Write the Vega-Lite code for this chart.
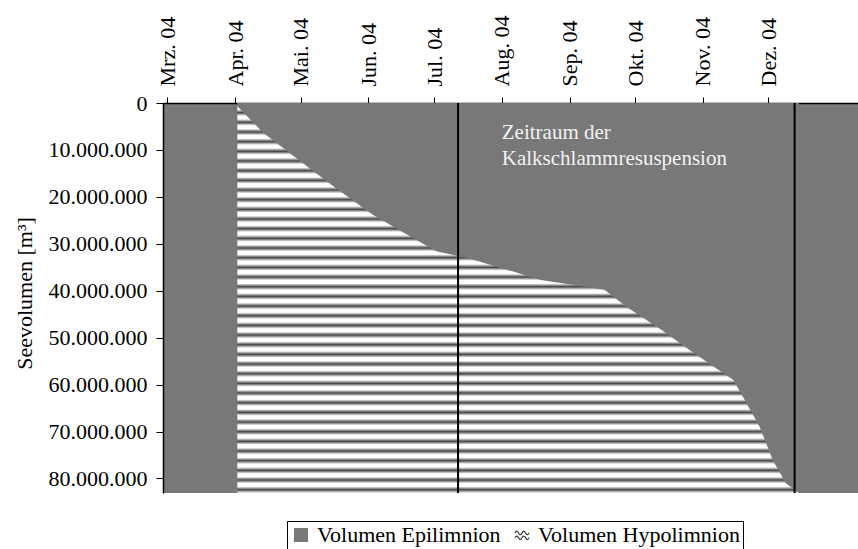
{
  "$schema": "https://vega.github.io/schema/vega-lite/v6.json",
  "autosize": "none",
  "width": 695,
  "height": 390,
  "padding": {"left": 163, "top": 103, "right": 0, "bottom": 56},
  "background": "white",
  "datasets": {
    "curve": [
      {"date": "2004-04-02", "vol": 700000},
      {"date": "2004-04-14", "vol": 6400000},
      {"date": "2004-05-01", "vol": 12450000},
      {"date": "2004-05-17", "vol": 18100000},
      {"date": "2004-06-03", "vol": 23800000},
      {"date": "2004-06-20", "vol": 28400000},
      {"date": "2004-07-02", "vol": 31600000},
      {"date": "2004-07-16", "vol": 33000000},
      {"date": "2004-08-19", "vol": 37700000},
      {"date": "2004-09-17", "vol": 39800000},
      {"date": "2004-09-27", "vol": 43400000},
      {"date": "2004-10-13", "vol": 48300000},
      {"date": "2004-10-28", "vol": 53300000},
      {"date": "2004-11-15", "vol": 59000000},
      {"date": "2004-11-21", "vol": 64000000},
      {"date": "2004-11-27", "vol": 69000000},
      {"date": "2004-12-03", "vol": 76100000},
      {"date": "2004-12-09", "vol": 81000000},
      {"date": "2004-12-15", "vol": 83100000}
    ],
    "lines": [
      {"date": "2004-07-12"},
      {"date": "2004-12-13"}
    ],
    "note": [
      {"date": "2004-08-01", "vol": 7700000, "label": "Zeitraum der\nKalkschlammresuspension"}
    ]
  },
  "encoding": {
    "x": {
      "field": "date",
      "type": "temporal",
      "scale": {
        "type": "utc",
        "domain": [
          {"year": 2004, "month": 2, "date": 28, "utc": true},
          {"year": 2005, "month": 1, "date": 11, "utc": true}
        ],
        "nice": false
      },
      "axis": {
        "orient": "top",
        "title": null,
        "values": [
          {"year": 2004, "month": 3, "date": 1, "utc": true},
          {"year": 2004, "month": 4, "date": 1, "utc": true},
          {"year": 2004, "month": 5, "date": 1, "utc": true},
          {"year": 2004, "month": 6, "date": 1, "utc": true},
          {"year": 2004, "month": 7, "date": 1, "utc": true},
          {"year": 2004, "month": 8, "date": 1, "utc": true},
          {"year": 2004, "month": 9, "date": 1, "utc": true},
          {"year": 2004, "month": 10, "date": 1, "utc": true},
          {"year": 2004, "month": 11, "date": 1, "utc": true},
          {"year": 2004, "month": 12, "date": 1, "utc": true}
        ],
        "labelExpr": "['Jan.','Feb.','Mrz.','Apr.','Mai.','Jun.','Jul.','Aug.','Sep.','Okt.','Nov.','Dez.'][utcmonth(datum.value)] + ' ' + utcFormat(datum.value, '%y')",
        "labelAngle": 270,
        "labelAlign": "left",
        "labelBaseline": "middle",
        "labelPadding": 11,
        "tickSize": 6,
        "labelOverlap": false,
        "labelFlush": false
      }
    }
  },
  "layer": [
    {
      "data": {"name": "curve"},
      "mark": {"type": "area", "interpolate": "linear"},
      "encoding": {
        "y": {
          "field": "vol",
          "type": "quantitative",
          "scale": {"domain": [0, 83100000], "reverse": true, "nice": false, "zero": false},
          "axis": {
            "title": "Seevolumen [m³]",
            "values": [0, 10000000, 20000000, 30000000, 40000000, 50000000, 60000000, 70000000, 80000000],
            "labelExpr": "replace(replace(format(datum.value, ','), ',', '.'), ',', '.')",
            "tickSize": 7,
            "labelPadding": 9,
            "titlePadding": 12,
            "titleY": 190
          }
        },
        "y2": {"datum": 0},
        "color": {
          "datum": "Volumen Epilimnion",
          "scale": {
            "domain": ["Volumen Epilimnion", "Volumen Hypolimnion"],
            "range": ["#787878", "#ffffff"]
          },
          "legend": {
            "title": null,
            "orient": "none",
            "legendX": 124,
            "legendY": 418,
            "direction": "horizontal",
            "padding": 3,
            "strokeColor": "black",
            "fillColor": "white",
            "labelFontSize": 22,
            "labelFont": "Liberation Serif",
            "labelColor": "black",
            "labelLimit": 400,
            "symbolSize": 196,
            "columnPadding": 10,
            "labelOffset": 5,
            "encode": {
              "symbols": {
                "update": {
                  "shape": {"signal": "datum.value == 'Volumen Hypolimnion' ? 'M-1,-0.3Q-0.75,-0.8,-0.5,-0.3T0,-0.3T0.5,-0.3T1,-0.3M-1,0.4Q-0.75,-0.1,-0.5,0.4T0,0.4T0.5,0.4T1,0.4' : 'square'"},
                  "fill": {"signal": "datum.value == 'Volumen Hypolimnion' ? 'transparent' : '#787878'"},
                  "stroke": {"signal": "datum.value == 'Volumen Hypolimnion' ? '#333333' : 'transparent'"},
                  "strokeWidth": {"value": 1.2},
                  "opacity": {"value": 1}
                }
              }
            }
          }
        }
      }
    },
    {
      "data": {"name": "curve"},
      "mark": {
        "type": "area",
        "interpolate": "linear",
        "fill": {
          "gradient": "linear",
          "x1": 0, "y1": 0, "x2": 0, "y2": 1,
          "stops": [
            {"offset": 0, "color": "#ffffff"}, {"offset": 0.008, "color": "#ffffff"}, {"offset": 0.0165, "color": "#444444"},
            {"offset": 0.025, "color": "#ffffff"}, {"offset": 0.033, "color": "#ffffff"}, {"offset": 0.0415, "color": "#444444"},
            {"offset": 0.05, "color": "#ffffff"}, {"offset": 0.058, "color": "#ffffff"}, {"offset": 0.0665, "color": "#444444"},
            {"offset": 0.075, "color": "#ffffff"}, {"offset": 0.083, "color": "#ffffff"}, {"offset": 0.0915, "color": "#444444"},
            {"offset": 0.1, "color": "#ffffff"}, {"offset": 0.108, "color": "#ffffff"}, {"offset": 0.1165, "color": "#444444"},
            {"offset": 0.125, "color": "#ffffff"}, {"offset": 0.133, "color": "#ffffff"}, {"offset": 0.1415, "color": "#444444"},
            {"offset": 0.15, "color": "#ffffff"}, {"offset": 0.158, "color": "#ffffff"}, {"offset": 0.1665, "color": "#444444"},
            {"offset": 0.175, "color": "#ffffff"}, {"offset": 0.183, "color": "#ffffff"}, {"offset": 0.1915, "color": "#444444"},
            {"offset": 0.2, "color": "#ffffff"}, {"offset": 0.208, "color": "#ffffff"}, {"offset": 0.2165, "color": "#444444"},
            {"offset": 0.225, "color": "#ffffff"}, {"offset": 0.233, "color": "#ffffff"}, {"offset": 0.2415, "color": "#444444"},
            {"offset": 0.25, "color": "#ffffff"}, {"offset": 0.258, "color": "#ffffff"}, {"offset": 0.2665, "color": "#444444"},
            {"offset": 0.275, "color": "#ffffff"}, {"offset": 0.283, "color": "#ffffff"}, {"offset": 0.2915, "color": "#444444"},
            {"offset": 0.3, "color": "#ffffff"}, {"offset": 0.308, "color": "#ffffff"}, {"offset": 0.3165, "color": "#444444"},
            {"offset": 0.325, "color": "#ffffff"}, {"offset": 0.333, "color": "#ffffff"}, {"offset": 0.3415, "color": "#444444"},
            {"offset": 0.35, "color": "#ffffff"}, {"offset": 0.358, "color": "#ffffff"}, {"offset": 0.3665, "color": "#444444"},
            {"offset": 0.375, "color": "#ffffff"}, {"offset": 0.383, "color": "#ffffff"}, {"offset": 0.3915, "color": "#444444"},
            {"offset": 0.4, "color": "#ffffff"}, {"offset": 0.408, "color": "#ffffff"}, {"offset": 0.4165, "color": "#444444"},
            {"offset": 0.425, "color": "#ffffff"}, {"offset": 0.433, "color": "#ffffff"}, {"offset": 0.4415, "color": "#444444"},
            {"offset": 0.45, "color": "#ffffff"}, {"offset": 0.458, "color": "#ffffff"}, {"offset": 0.4665, "color": "#444444"},
            {"offset": 0.475, "color": "#ffffff"}, {"offset": 0.483, "color": "#ffffff"}, {"offset": 0.4915, "color": "#444444"},
            {"offset": 0.5, "color": "#ffffff"}, {"offset": 0.508, "color": "#ffffff"}, {"offset": 0.5165, "color": "#444444"},
            {"offset": 0.525, "color": "#ffffff"}, {"offset": 0.533, "color": "#ffffff"}, {"offset": 0.5415, "color": "#444444"},
            {"offset": 0.55, "color": "#ffffff"}, {"offset": 0.558, "color": "#ffffff"}, {"offset": 0.5665, "color": "#444444"},
            {"offset": 0.575, "color": "#ffffff"}, {"offset": 0.583, "color": "#ffffff"}, {"offset": 0.5915, "color": "#444444"},
            {"offset": 0.6, "color": "#ffffff"}, {"offset": 0.608, "color": "#ffffff"}, {"offset": 0.6165, "color": "#444444"},
            {"offset": 0.625, "color": "#ffffff"}, {"offset": 0.633, "color": "#ffffff"}, {"offset": 0.6415, "color": "#444444"},
            {"offset": 0.65, "color": "#ffffff"}, {"offset": 0.658, "color": "#ffffff"}, {"offset": 0.6665, "color": "#444444"},
            {"offset": 0.675, "color": "#ffffff"}, {"offset": 0.683, "color": "#ffffff"}, {"offset": 0.6915, "color": "#444444"},
            {"offset": 0.7, "color": "#ffffff"}, {"offset": 0.708, "color": "#ffffff"}, {"offset": 0.7165, "color": "#444444"},
            {"offset": 0.725, "color": "#ffffff"}, {"offset": 0.733, "color": "#ffffff"}, {"offset": 0.7415, "color": "#444444"},
            {"offset": 0.75, "color": "#ffffff"}, {"offset": 0.758, "color": "#ffffff"}, {"offset": 0.7665, "color": "#444444"},
            {"offset": 0.775, "color": "#ffffff"}, {"offset": 0.783, "color": "#ffffff"}, {"offset": 0.7915, "color": "#444444"},
            {"offset": 0.8, "color": "#ffffff"}, {"offset": 0.808, "color": "#ffffff"}, {"offset": 0.8165, "color": "#444444"},
            {"offset": 0.825, "color": "#ffffff"}, {"offset": 0.833, "color": "#ffffff"}, {"offset": 0.8415, "color": "#444444"},
            {"offset": 0.85, "color": "#ffffff"}, {"offset": 0.858, "color": "#ffffff"}, {"offset": 0.8665, "color": "#444444"},
            {"offset": 0.875, "color": "#ffffff"}, {"offset": 0.883, "color": "#ffffff"}, {"offset": 0.8915, "color": "#444444"},
            {"offset": 0.9, "color": "#ffffff"}, {"offset": 0.908, "color": "#ffffff"}, {"offset": 0.9165, "color": "#444444"},
            {"offset": 0.925, "color": "#ffffff"}, {"offset": 0.933, "color": "#ffffff"}, {"offset": 0.9415, "color": "#444444"},
            {"offset": 0.95, "color": "#ffffff"}, {"offset": 0.958, "color": "#ffffff"}, {"offset": 0.9665, "color": "#444444"},
            {"offset": 0.975, "color": "#ffffff"}, {"offset": 0.983, "color": "#ffffff"}, {"offset": 0.9915, "color": "#444444"},
            {"offset": 1, "color": "#ffffff"}
          ]
        }
      },
      "encoding": {
        "y": {"field": "vol", "type": "quantitative"},
        "y2": {"datum": 83100000}
      }
    },
    {
      "data": {"name": "lines"},
      "mark": {"type": "rule", "color": "black", "strokeWidth": 2},
      "encoding": {}
    },
    {
      "data": {"name": "note"},
      "mark": {
        "type": "text",
        "align": "left",
        "baseline": "alphabetic",
        "lineBreak": "\n",
        "lineHeight": 26,
        "font": "Liberation Serif",
        "fontSize": 21,
        "color": "#f2f2f2"
      },
      "encoding": {
        "y": {"field": "vol", "type": "quantitative"},
        "text": {"field": "label"}
      }
    }
  ],
  "config": {
    "font": "Liberation Serif",
    "view": {"fill": "#787878", "stroke": null},
    "axis": {
      "grid": false,
      "domainColor": "black",
      "domainWidth": 1.5,
      "tickColor": "black",
      "tickWidth": 1,
      "labelColor": "black",
      "labelFont": "Liberation Serif",
      "labelFontSize": 22,
      "titleFont": "Liberation Serif",
      "titleFontSize": 22,
      "titleFontWeight": "normal",
      "titleColor": "black"
    }
  }
}
